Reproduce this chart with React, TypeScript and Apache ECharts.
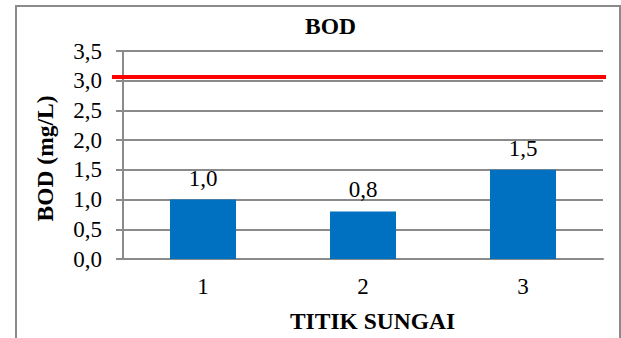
import React, { useEffect, useRef } from "react";
import * as echarts from "echarts";

// Sampling points along the river and their measured BOD (mg/L)
const categories = ["1", "2", "3"];
const bodValues = [1.0, 0.8, 1.5];
// Quality-standard reference line (mg/L)
const standardLevel = [3.07, 3.07];
const yTicks = { min: 0, max: 3.5, interval: 0.5 };

const FONT = "Times New Roman, Liberation Serif, DejaVu Serif, serif";
const GRAY = "#8a8a8a";

const fmt = (v: number) => v.toFixed(1).replace(".", ",");

export default function App() {
  const ref = useRef<HTMLDivElement>(null);

  useEffect(() => {
    if (!ref.current) return;
    const chart = echarts.init(ref.current, undefined, { renderer: "svg" });
    chart.setOption({
      animation: false,
      backgroundColor: "#ffffff",
      textStyle: { fontFamily: FONT },
      title: {
        text: "BOD",
        left: 305,
        top: 14,
        padding: 0,
        textStyle: { fontFamily: FONT, fontSize: 23.5, fontWeight: "bold", color: "#000" },
      },
      graphic: [
        {
          type: "rect",
          shape: { x: 16, y: 6, width: 604, height: 400 },
          style: { fill: "none", stroke: GRAY, lineWidth: 2 },
          silent: true,
        },
      ],
      grid: [
        { left: 123, right: 18, top: 51, bottom: 75 },
        { left: 112, right: 15, top: 51, bottom: 75 },
      ],
      xAxis: [
        {
          type: "category",
          gridIndex: 0,
          data: categories,
          axisLine: { show: true, lineStyle: { color: GRAY, width: 2 } },
          axisTick: { show: false },
          axisLabel: { fontFamily: FONT, fontSize: 23, color: "#000", margin: 16 },
          name: "TITIK SUNGAI",
          nameLocation: "middle",
          nameGap: 50,
          nameTextStyle: {
            fontFamily: FONT,
            fontSize: 23.5,
            fontWeight: "bold",
            color: "#000",
            padding: [0, 0, 0, 19],
          },
        },
        { type: "value", gridIndex: 1, min: 0, max: 1, show: false },
      ],
      yAxis: [
        {
          type: "value",
          gridIndex: 0,
          min: yTicks.min,
          max: yTicks.max,
          interval: yTicks.interval,
          axisLine: { show: true, lineStyle: { color: GRAY, width: 2 } },
          axisTick: { show: true, length: 7, lineStyle: { color: GRAY, width: 2 } },
          splitLine: { show: true, lineStyle: { color: GRAY, width: 2 } },
          axisLabel: {
            fontFamily: FONT,
            fontSize: 23,
            color: "#000",
            margin: 21,
            formatter: (v: number) => fmt(v),
          },
          name: "BOD (mg/L)",
          nameLocation: "middle",
          nameGap: 66,
          nameTextStyle: {
            fontFamily: FONT,
            fontSize: 23.5,
            fontWeight: "bold",
            color: "#000",
            padding: [0, 7, 0, 0],
          },
        },
        { type: "value", gridIndex: 1, min: yTicks.min, max: yTicks.max, show: false },
      ],
      series: [
        {
          type: "bar",
          xAxisIndex: 0,
          yAxisIndex: 0,
          data: bodValues,
          barWidth: 66,
          itemStyle: { color: "#0070C0" },
          label: {
            show: true,
            position: "top",
            distance: 10,
            fontFamily: FONT,
            fontSize: 23,
            color: "#000",
            formatter: (p: any) => fmt(p.value),
          },
        },
        {
          type: "line",
          xAxisIndex: 1,
          yAxisIndex: 1,
          data: standardLevel.map((v, i) => [i, v]),
          symbol: "none",
          lineStyle: { color: "#ff0000", width: 4 },
          z: 5,
        },
      ],
    });
    return () => chart.dispose();
  }, []);

  return (
    <div
      ref={ref}
      style={{ position: "absolute", left: 0, top: 0, width: 621, height: 338 }}
    />
  );
}
